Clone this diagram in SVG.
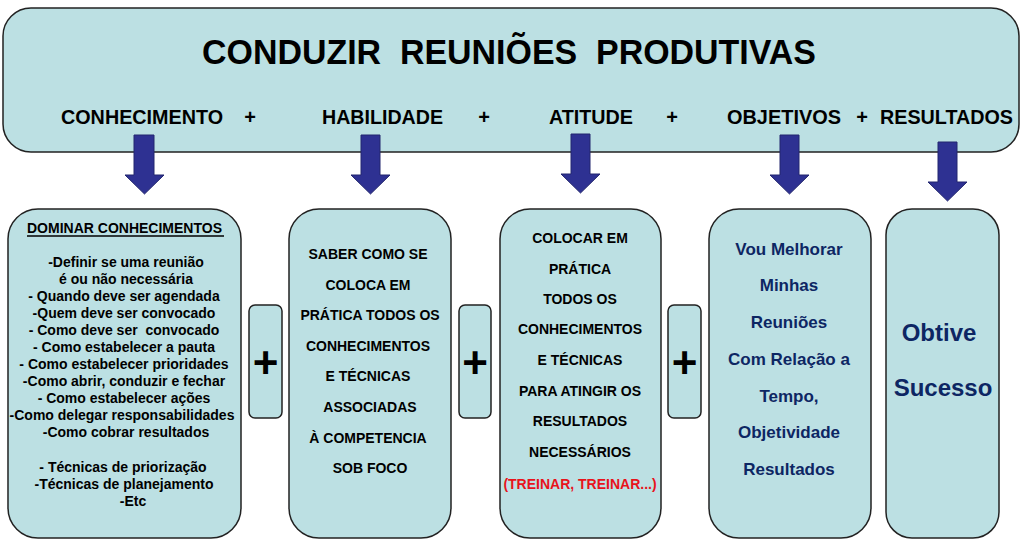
<svg xmlns="http://www.w3.org/2000/svg" width="1025" height="547" viewBox="0 0 1025 547">
<defs>
<style>
.box{fill:#bce0e3;stroke:#222;stroke-width:1.5}
.arr{fill:#2e3192;stroke:#23276e;stroke-width:1}
text{font-family:"Liberation Sans",Arial,sans-serif;font-weight:bold}
.hd{font-size:20px;fill:#000}
.b1{font-size:14px;fill:#000;text-anchor:middle}
.b2{font-size:14px;fill:#000;text-anchor:middle}
.red{fill:#e8131b}
.b4{font-size:17px;fill:#0d2663;text-anchor:middle}
.b5{font-size:24px;fill:#0d2663;text-anchor:middle}
.pl{font-size:44px;fill:#000;text-anchor:middle}
</style>
</defs>
<rect width="1025" height="547" fill="#fff"/>
<g id="header">
<rect class="box" x="3" y="8" width="1016" height="144" rx="28"/>
<text x="202" y="64" font-size="35" textLength="614" lengthAdjust="spacingAndGlyphs" xml:space="preserve">CONDUZIR  REUNIÕES  PRODUTIVAS</text>
<text class="hd" x="61" y="124" textLength="162" lengthAdjust="spacingAndGlyphs">CONHECIMENTO</text>
<text class="hd" x="250" y="124" text-anchor="middle">+</text>
<text class="hd" x="322" y="124" textLength="121" lengthAdjust="spacingAndGlyphs">HABILIDADE</text>
<text class="hd" x="484" y="124" text-anchor="middle">+</text>
<text class="hd" x="549" y="124" textLength="84" lengthAdjust="spacingAndGlyphs">ATITUDE</text>
<text class="hd" x="672" y="124" text-anchor="middle">+</text>
<text class="hd" x="727" y="124" textLength="114" lengthAdjust="spacingAndGlyphs">OBJETIVOS</text>
<text class="hd" x="862" y="124" text-anchor="middle">+</text>
<text class="hd" x="880" y="124" textLength="133" lengthAdjust="spacingAndGlyphs">RESULTADOS</text>
</g>
<g id="connectors">
<polygon class="arr" points="134,135 154,135 154,175 164,175 144.5,194 125,175 134,175"/>
<polygon class="arr" points="361,135 380,135 380,175 390,175 370.5,194 351,175 361,175"/>
<polygon class="arr" points="571,134 590,134 590,174 600,174 580.5,193 561,174 571,174"/>
<polygon class="arr" points="780,135 799,135 799,175 809,175 789.5,194 770,175 780,175"/>
<polygon class="arr" points="938,142 957,142 957,182 967,182 947.5,201 928,182 938,182"/>
</g>
<g id="box1">
<rect class="box" x="8" y="209" width="233" height="329" rx="30"/>
<text x="27" y="233" font-size="14">DOMINAR CONHECIMENTOS</text>
<line x1="27" y1="236" x2="224" y2="236" stroke="#000" stroke-width="1.3"/>
<text class="b1" x="126" y="267">-Definir se uma reunião</text>
<text class="b1" x="126" y="284">é ou não necessária</text>
<text class="b1" x="124" y="301">- Quando deve ser agendada</text>
<text class="b1" x="124" y="318">-Quem deve ser convocado</text>
<text class="b1" x="124" y="335" xml:space="preserve">- Como deve ser  convocado</text>
<text class="b1" x="124" y="352">- Como estabelecer a pauta</text>
<text class="b1" x="124" y="369">- Como estabelecer prioridades</text>
<text class="b1" x="124" y="386">-Como abrir, conduzir e fechar</text>
<text class="b1" x="124" y="403">- Como estabelecer ações</text>
<text class="b1" x="122" y="420">-Como delegar responsabilidades</text>
<text class="b1" x="126" y="437">-Como cobrar resultados</text>
<text class="b1" x="123" y="472">- Técnicas de priorização</text>
<text class="b1" x="124" y="489">-Técnicas de planejamento</text>
<text class="b1" x="133" y="506">-Etc</text>
</g>
<g id="plus1">
<rect class="box" x="249" y="305" width="33" height="113" rx="6"/>
<text class="pl" x="265.5" y="378">+</text>
</g>
<g id="box2">
<rect class="box" x="289" y="209" width="162" height="329" rx="30"/>
<text class="b2" x="368" y="259">SABER COMO SE</text>
<text class="b2" x="368" y="290">COLOCA EM</text>
<text class="b2" x="370" y="320">PRÁTICA TODOS OS</text>
<text class="b2" x="368" y="351">CONHECIMENTOS</text>
<text class="b2" x="368" y="381">E TÉCNICAS</text>
<text class="b2" x="370" y="412">ASSOCIADAS</text>
<text class="b2" x="368" y="443">À COMPETENCIA</text>
<text class="b2" x="370" y="473">SOB FOCO</text>
</g>
<g id="plus2">
<rect class="box" x="459" y="305" width="32" height="113" rx="6"/>
<text class="pl" x="475" y="378">+</text>
</g>
<g id="box3">
<rect class="box" x="500" y="209" width="161" height="329" rx="30"/>
<text class="b2" x="580" y="243">COLOCAR EM</text>
<text class="b2" x="580" y="274">PRÁTICA</text>
<text class="b2" x="580" y="304">TODOS OS</text>
<text class="b2" x="580" y="334">CONHECIMENTOS</text>
<text class="b2" x="580" y="365">E TÉCNICAS</text>
<text class="b2" x="580" y="396">PARA ATINGIR OS</text>
<text class="b2" x="580" y="426">RESULTADOS</text>
<text class="b2" x="580" y="457">NECESSÁRIOS</text>
<text class="b2 red" x="580" y="489">(TREINAR, TREINAR...)</text>
</g>
<g id="plus3">
<rect class="box" x="668" y="305" width="33" height="113" rx="6"/>
<text class="pl" x="684.5" y="378">+</text>
</g>
<g id="box4">
<rect class="box" x="709" y="209" width="162" height="329" rx="30"/>
<text class="b4" x="789" y="255">Vou Melhorar</text>
<text class="b4" x="789" y="291">Minhas</text>
<text class="b4" x="789" y="328">Reuniões</text>
<text class="b4" x="789" y="365">Com Relação a</text>
<text class="b4" x="789" y="402">Tempo,</text>
<text class="b4" x="789" y="438">Objetividade</text>
<text class="b4" x="789" y="475">Resultados</text>
</g>
<g id="box5">
<rect class="box" x="886" y="209" width="113" height="329" rx="26"/>
<text class="b5" x="939" y="341">Obtive</text>
<text class="b5" x="943" y="396">Sucesso</text>
</g>
</svg>
